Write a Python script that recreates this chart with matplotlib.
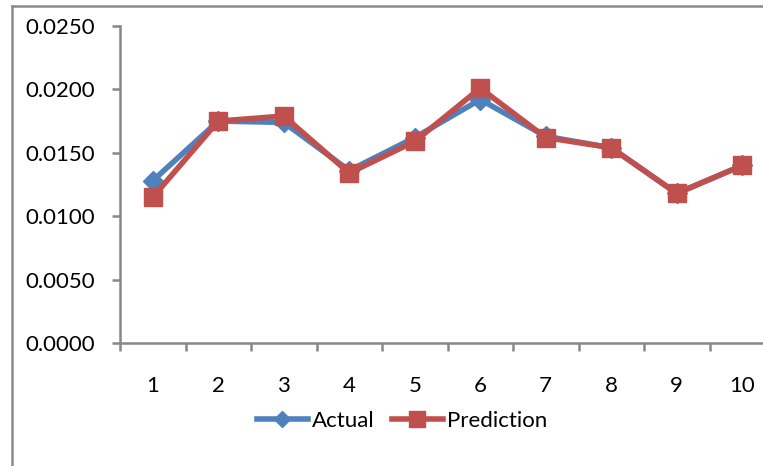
import matplotlib
matplotlib.use("Agg")
import matplotlib.pyplot as plt
from matplotlib.lines import Line2D
from matplotlib.ticker import FixedLocator, NullFormatter, FixedFormatter

categories = ["1", "2", "3", "4", "5", "6", "7", "8", "9", "10"]
actual = [0.0128, 0.0175, 0.0174, 0.0136, 0.0162, 0.0192, 0.0163, 0.0154, 0.0118, 0.0140]
prediction = [0.0115, 0.0175, 0.0179, 0.0134, 0.0159, 0.0201, 0.0162, 0.0154, 0.0118, 0.0140]
y_ticks = [0.0, 0.005, 0.010, 0.015, 0.020, 0.025]
y_labels = ["0.0000", "0.0050", "0.0100", "0.0150", "0.0200", "0.0250"]

W, H = 763, 466
fig = plt.figure(figsize=(W / 100, H / 100), dpi=100)
plt.rcParams['font.family'] = ['Lato', 'DejaVu Sans']

ax_l, ax_r, ax_t, ax_b = 120, 775, 26, 343
ax = fig.add_axes([ax_l / W, 1 - ax_b / H, (ax_r - ax_l) / W, (ax_b - ax_t) / H])

x = list(range(1, len(categories) + 1))
blue = "#4F81BD"
red = "#C0504D"
ax.plot(x, actual, color=blue, lw=4, marker="D", ms=10, mfc=blue, mec=blue,
        label="Actual", solid_joinstyle="miter", zorder=3)
ax.plot(x, prediction, color=red, lw=4, marker="s", ms=13, mfc=red, mec=red,
        label="Prediction", solid_joinstyle="miter", zorder=4)

ax.set_xlim(0.5, len(categories) + 0.5)
ax.set_ylim(0, 0.025)

for s in ["top", "right"]:
    ax.spines[s].set_visible(False)
for s in ["left", "bottom"]:
    ax.spines[s].set_color("#878787")
    ax.spines[s].set_linewidth(1.8)

ax.yaxis.set_major_locator(FixedLocator(y_ticks))
ax.yaxis.set_major_formatter(FixedFormatter(y_labels))
ax.tick_params(axis="y", direction="out", length=6, width=1.8, color="#878787",
               labelsize=16, pad=12, labelcolor="black")

ax.xaxis.set_major_locator(FixedLocator([i + 0.5 for i in range(0, len(categories) + 1)]))
ax.xaxis.set_major_formatter(NullFormatter())
ax.xaxis.set_minor_locator(FixedLocator(x))
ax.xaxis.set_minor_formatter(FixedFormatter(categories))
ax.tick_params(axis="x", which="major", direction="out", length=6, width=1.8, color="#878787")
ax.tick_params(axis="x", which="minor", length=0, labelsize=16, pad=24, labelcolor="black")

leg = fig.legend(loc="center", bbox_to_anchor=(402 / W, 1 - 421 / H), ncol=2, frameon=False,
                 fontsize=16, handlelength=2.3, handletextpad=0.2, columnspacing=0.75,
                 markerscale=0.85)

# outer frame (cropped chart border)
fig.add_artist(Line2D([12 / W, 12 / W], [0, 1 - 6 / H], transform=fig.transFigure,
                      color="#8a8a8a", lw=1.8))
fig.add_artist(Line2D([12 / W, 1], [1 - 6 / H, 1 - 6 / H], transform=fig.transFigure,
                      color="#8a8a8a", lw=1.8))

fig.savefig("out.png", dpi=100)
